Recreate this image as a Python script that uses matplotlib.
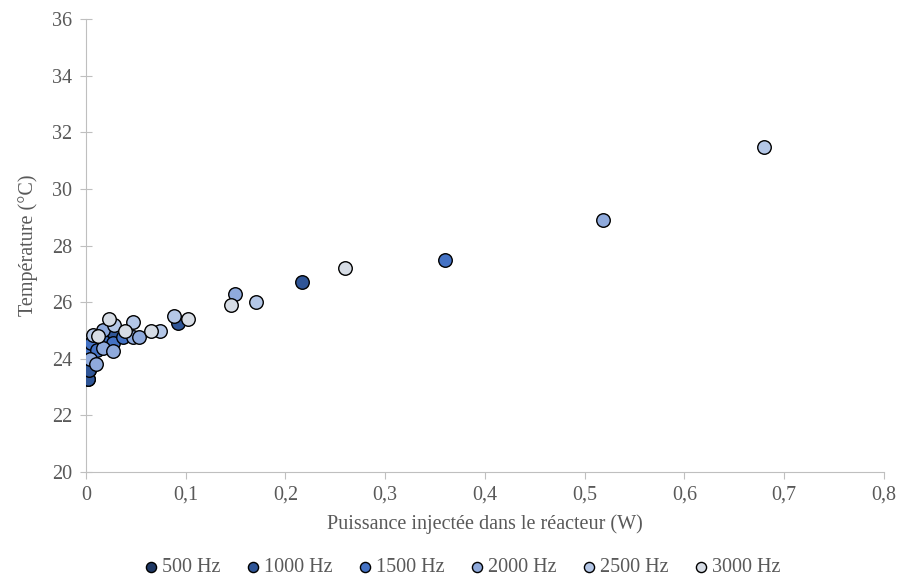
import matplotlib
matplotlib.use('Agg')
import matplotlib.pyplot as plt

plt.rcParams['font.family'] = ['Liberation Serif', 'DejaVu Serif']

series = ['500 Hz', '1000 Hz', '1500 Hz', '2000 Hz', '2500 Hz', '3000 Hz']
colors = ['#1f3864', '#2f5597', '#4472c4', '#8faadc', '#b4c7e7', '#d6dce5']

x500 = [0.001, 0.002, 0.003, 0.005, 0.027]
y500 = [23.5, 23.3, 23.6, 24.3, 24.9]
x1000 = [0.002, 0.003, 0.027, 0.092, 0.217]
y1000 = [23.3, 23.6, 24.96, 25.28, 26.7]
x1500 = [0.002, 0.005, 0.011, 0.018, 0.027, 0.037, 0.36]
y1500 = [24.3, 24.55, 24.31, 24.6, 24.55, 24.76, 27.5]
x2000 = [0.004, 0.010, 0.017, 0.017, 0.027, 0.047, 0.053, 0.149, 0.518]
y2000 = [24.0, 23.81, 24.37, 25.02, 24.29, 24.78, 24.78, 26.29, 28.9]
x2500 = [0.007, 0.028, 0.047, 0.074, 0.0885, 0.170, 0.68]
y2500 = [24.84, 25.19, 25.31, 24.99, 25.51, 26.0, 31.5]
x3000 = [0.012, 0.023, 0.039, 0.065, 0.102, 0.145, 0.26]
y3000 = [24.81, 25.41, 24.99, 24.99, 25.40, 25.9, 27.2]

xs = [x500, x1000, x1500, x2000, x2500, x3000]
ys = [y500, y1000, y1500, y2000, y2500, y3000]

fig = plt.figure(figsize=(9, 5.81), dpi=100)
ax = fig.add_axes([0.0956, 0.1876, 0.8864, 0.7794])

for nom, c, xx, yy in zip(series, colors, xs, ys):
    ax.scatter(xx, yy, s=95, color=c, edgecolors='black', linewidths=1.0, label=nom, zorder=3)

ax.set_xlim(0, 0.8)
ax.set_ylim(20, 36)
ax.set_xticks([i / 10 for i in range(9)])
ax.set_xticklabels(['0'] + ['0,%d' % i for i in range(1, 9)])
ax.set_yticks(range(20, 37, 2))

gris = '#bfbfbf'
for s in ['top', 'right']:
    ax.spines[s].set_visible(False)
for s in ['left', 'bottom']:
    ax.spines[s].set_color(gris)
ax.tick_params(axis='y', direction='inout', length=8, color=gris, labelcolor='#595959', labelsize=14.5, pad=6)
ax.tick_params(axis='x', direction='out', length=5, color=gris, labelcolor='#595959', labelsize=14.5, pad=5)

ax.set_xlabel('Puissance injectée dans le réacteur (W)', color='#595959', fontsize=14.5, labelpad=7)
ax.set_ylabel('Température (°C)', color='#595959', fontsize=14.5, labelpad=10)

leg = fig.legend(loc='lower center', ncol=6, bbox_to_anchor=(0.512, -0.025), frameon=False,
                 fontsize=14.5, handlelength=1.0, handletextpad=0.05, columnspacing=1.1, markerscale=0.75)
for t in leg.get_texts():
    t.set_color('#595959')

fig.savefig('out.png', dpi=100)
